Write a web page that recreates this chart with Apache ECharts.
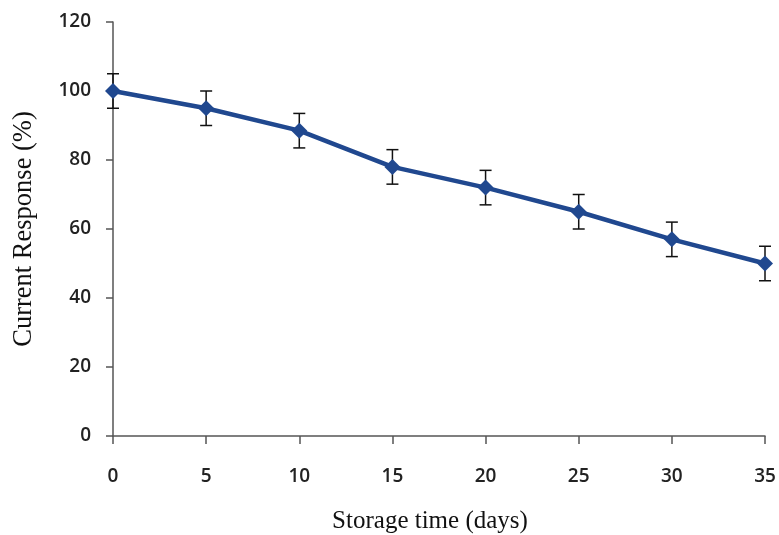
<!DOCTYPE html>
<html><head><meta charset="utf-8">
<script src="https://cdn.jsdelivr.net/npm/echarts@6/dist/echarts.min.js"></script>
<style>html,body{margin:0;padding:0;background:#fff}#c{width:779px;height:535px}</style>
</head><body><div id="c"></div>
<script>
var days = [0, 5, 10, 15, 20, 25, 30, 35];
var response = [100, 95, 88.5, 78, 72, 65, 57, 50];
var errors = [5, 5, 5, 5, 5, 5, 5, 5];
var yTicks = [0, 20, 40, 60, 80, 100, 120];

var chart = echarts.init(document.getElementById('c'));
var lineData = days.map(function(d, i){ return [d, response[i]]; });
var errData = days.map(function(d, i){ return [d, response[i] - errors[i], response[i] + errors[i]]; });
var tickFont = {fontFamily: 'Open Sans', fontSize: 19, fontWeight: 600, color: '#222'};
chart.setOption({
  animation: false,
  grid: {left: 113, right: 14, top: 22, bottom: 99, containLabel: false, outerBoundsMode: 'none'},
  xAxis: {
    type: 'value', min: 0, max: 35, interval: 5,
    name: 'Storage time (days)', nameLocation: 'middle', nameGap: 73,
    nameTextStyle: {fontFamily: 'Liberation Serif', fontSize: 25, color: '#111', padding: [0, 18, 0, 0]},
    axisLine: {lineStyle: {color: '#555', width: 1.5}},
    axisTick: {show: true, length: 8, lineStyle: {color: '#555', width: 1.5}},
    axisLabel: Object.assign({margin: 31}, tickFont),
    splitLine: {show: false}
  },
  yAxis: {
    type: 'value', min: yTicks[0], max: yTicks[yTicks.length-1], interval: 20,
    name: 'Current Response (%)', nameLocation: 'middle', nameGap: 75,
    nameTextStyle: {fontFamily: 'Liberation Serif', fontSize: 26.5, color: '#111'},
    axisLine: {show: true, lineStyle: {color: '#555', width: 1.5}},
    axisTick: {show: true, length: 7, lineStyle: {color: '#555', width: 1.5}},
    axisLabel: Object.assign({margin: 22}, tickFont),
    splitLine: {show: false}
  },
  series: [
    {
      type: 'custom',
      data: errData,
      z: 3,
      renderItem: function(params, api){
        var x = api.value(0);
        var lo = api.coord([x, api.value(1)]);
        var hi = api.coord([x, api.value(2)]);
        var w = 6;
        var st = {stroke: '#111', lineWidth: 1.5};
        return {type: 'group', children: [
          {type: 'line', shape: {x1: lo[0], y1: lo[1], x2: hi[0], y2: hi[1]}, style: st},
          {type: 'line', shape: {x1: lo[0]-w, y1: lo[1], x2: lo[0]+w, y2: lo[1]}, style: st},
          {type: 'line', shape: {x1: hi[0]-w, y1: hi[1], x2: hi[0]+w, y2: hi[1]}, style: st}
        ]};
      }
    },
    {
      type: 'line',
      data: lineData,
      z: 4,
      symbol: 'diamond',
      symbolSize: 16,
      lineStyle: {color: '#20488f', width: 4.5},
      itemStyle: {color: '#20488f'}
    }
  ]
});
</script></body></html>
